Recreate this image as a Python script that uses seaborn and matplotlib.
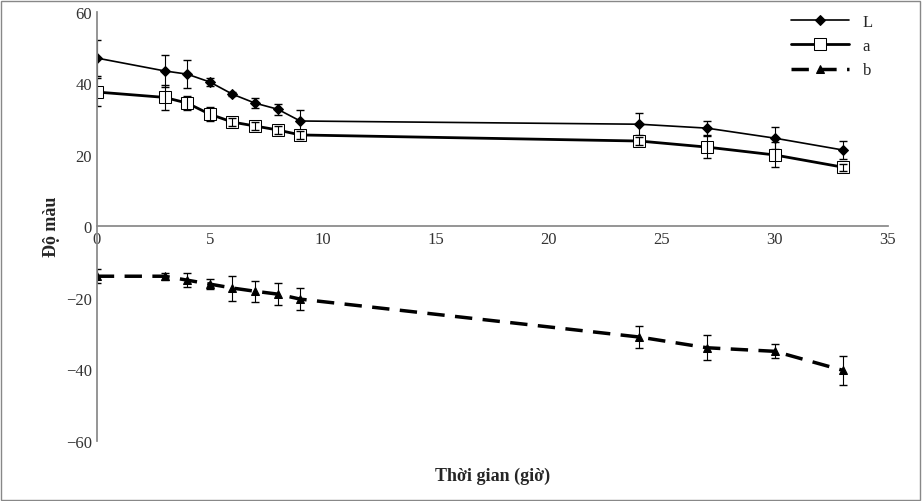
import numpy as np
import pandas as pd
import matplotlib
matplotlib.use("Agg")
import matplotlib.pyplot as plt
import seaborn as sns

# data
hours = [0, 3, 4, 5, 6, 7, 8, 9, 24, 27, 30, 33]
L_vals = [47.0, 43.4, 42.5, 40.3, 36.9, 34.4, 32.7, 29.4, 28.5, 27.4, 24.6, 21.3]
L_err = [5.0, 4.5, 4.0, 1.0, 0.5, 1.5, 1.5, 3.0, 3.0, 2.0, 3.0, 2.5]
a_vals = [37.5, 36.0, 34.4, 31.3, 29.1, 28.0, 26.9, 25.5, 23.8, 22.1, 19.9, 16.5]
a_err = [4.0, 3.5, 2.0, 2.0, 1.0, 1.0, 1.0, 1.0, 1.0, 3.0, 3.5, 1.0]
b_vals = [-14.0, -14.0, -15.1, -16.2, -17.3, -18.2, -19.0, -20.4, -31.0, -34.0, -35.0, -40.3]
b_err = [2.0, 1.0, 2.0, 1.5, 3.5, 3.0, 3.0, 3.0, 3.0, 3.5, 2.0, 4.0]

sns.set_theme(style="white")
plt.rcParams['font.family'] = ['Liberation Serif', 'DejaVu Serif']

df = pd.DataFrame({"t": hours * 3,
                   "v": L_vals + a_vals + b_vals,
                   "s": ["L"] * 12 + ["a"] * 12 + ["b"] * 12})

fig = plt.figure(figsize=(9.22, 5.02), dpi=100)
ax = fig.add_axes([0.105, 0.12, 0.858, 0.855])

styles = {"L": dict(marker="D", markersize=5, lw=1.2, ls="-", mfc="black"),
          "a": dict(marker="s", markersize=8, lw=2.0, ls="-", mfc="white"),
          "b": dict(marker="^", markersize=6, lw=2.5, ls=(0, (5, 3)), mfc="black")}
errs = {"L": L_err, "a": a_err, "b": b_err}

for s in ["L", "a", "b"]:
    d = df[df.s == s]
    sns.lineplot(data=d, x="t", y="v", ax=ax, color="black", label=s,
                 mec="black", **styles[s])
    ax.errorbar(d.t, d.v, yerr=errs[s], fmt="none", ecolor="black",
                elinewidth=0.8, capsize=3)

ax.set_xlim(0, 35)
ax.set_ylim(-60, 60)
ax.set_xticks(range(0, 36, 5))
ax.set_yticks(range(-60, 61, 20))
ax.spines['bottom'].set_position(('data', 0))
ax.spines['top'].set_visible(False)
ax.spines['right'].set_visible(False)
for sp in ax.spines.values():
    sp.set_color("#888888")
ax.tick_params(labelsize=12, colors="#333333", length=0)
ax.set_xlabel("Thời gian (giờ)", fontsize=13, fontweight="bold")
ax.set_ylabel("Độ màu", fontsize=13, fontweight="bold")
ax.xaxis.set_label_coords(0.5, -0.06)
ax.legend(loc="upper right", frameon=False, fontsize=12, handlelength=3.5,
          bbox_to_anchor=(1.0, 1.03))

fig.patches.append(plt.Rectangle((0.001, 0.002), 0.997, 0.995, transform=fig.transFigure,
                                 fill=False, edgecolor="#888888", lw=1))
fig.savefig("out.png", dpi=100)
